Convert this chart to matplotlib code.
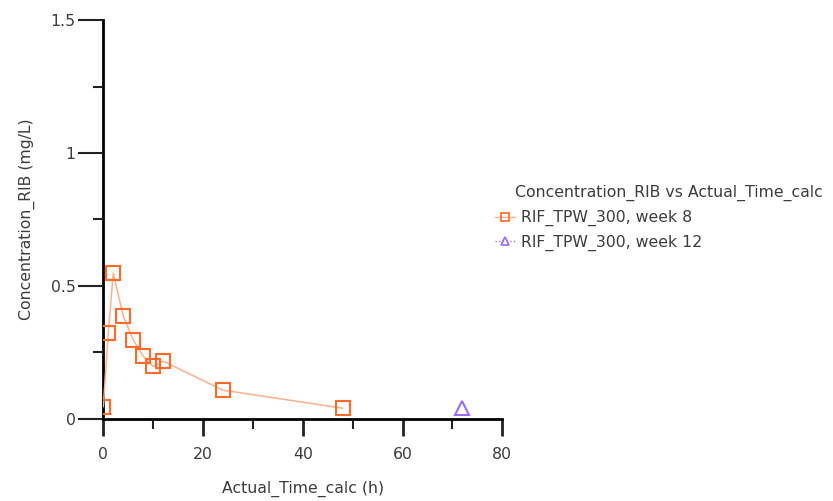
import matplotlib
matplotlib.use("Agg")
import matplotlib.pyplot as plt
from matplotlib.ticker import MultipleLocator
from matplotlib.lines import Line2D

# Data
time_w8 = [0, 1, 2, 4, 6, 8, 10, 12, 24, 48]
conc_w8 = [0.046, 0.322, 0.548, 0.387, 0.297, 0.236, 0.197, 0.217, 0.108, 0.040]
time_w12 = [72]
conc_w12 = [0.040]
label_w8 = "RIF_TPW_300, week 8"
label_w12 = "RIF_TPW_300, week 12"
legend_title = "Concentration_RIB vs Actual_Time_calc"
xlabel = "Actual_Time_calc (h)"
ylabel = "Concentration_RIB (mg/L)"

plt.rcParams['font.family'] = ['DejaVu Sans']
text_color = '#3c3c3c'
fs = 11.3

fig = plt.figure(figsize=(8.33, 5.01), dpi=100)
ax = fig.add_axes([0.124, 0.164, 0.479, 0.796])

orange = '#FF6A2A'
purple = '#9A6BFF'

ax.plot(time_w8, conc_w8, color='#FFB08A', lw=1.1, zorder=2)
ax.plot(time_w8, conc_w8, ls='none', marker='s', ms=9.5, mfc='none',
        mec=orange, mew=1.5, zorder=3)
ax.plot(time_w12, conc_w12, ls='none', marker='^', ms=9.5, mfc='none',
        mec=purple, mew=1.5, zorder=3)

ax.set_xlim(0, 80)
ax.set_ylim(0, 1.5)
ax.xaxis.set_major_locator(MultipleLocator(20))
ax.xaxis.set_minor_locator(MultipleLocator(10))
ax.yaxis.set_minor_locator(MultipleLocator(0.25))
ax.set_yticks([0, 0.5, 1, 1.5])
ax.set_yticklabels(['0', '0.5', '1', '1.5'])

for s in ['top', 'right']:
    ax.spines[s].set_visible(False)
for s in ['left', 'bottom']:
    ax.spines[s].set_linewidth(2)
    ax.spines[s].set_color('black')
ax.spines['left'].set_zorder(1)

ax.tick_params(axis='x', which='major', direction='out', length=12, width=2,
               color='#222222', labelsize=fs, labelcolor=text_color, pad=8)
ax.tick_params(axis='x', which='minor', direction='out', length=7, width=1.5,
               color='#222222')
ax.tick_params(axis='y', which='major', direction='out', length=18, width=1.5,
               color='#222222', labelsize=fs, labelcolor=text_color, pad=2)
ax.tick_params(axis='y', which='minor', direction='out', length=7, width=1.5,
               color='#222222')

ax.set_xlabel(xlabel, fontsize=fs, color=text_color, labelpad=14)
ax.set_ylabel(ylabel, fontsize=fs, color=text_color, labelpad=11)

# Legend
fig.text(515/833, 1 - 193/501, legend_title, fontsize=fs, color=text_color,
         va='center', ha='left')
h1 = Line2D([0], [0], color='#FFB08A', lw=1.0, marker='s', ms=6, mfc='none',
            mec=orange, mew=1.2)
h2 = Line2D([0], [0], color=purple, lw=1.0, ls=':', marker='^', ms=6, mfc='none',
            mec=purple, mew=1.2)
leg = fig.legend([h1, h2], [label_w8, label_w12], loc='upper left',
                 bbox_to_anchor=(495/833, 1 - 210/501), frameon=False,
                 fontsize=fs, handlelength=1.3, handletextpad=0.35,
                 labelspacing=0.55, borderpad=0, borderaxespad=0)
for t in leg.get_texts():
    t.set_color(text_color)

fig.savefig('out.png', dpi=100)
